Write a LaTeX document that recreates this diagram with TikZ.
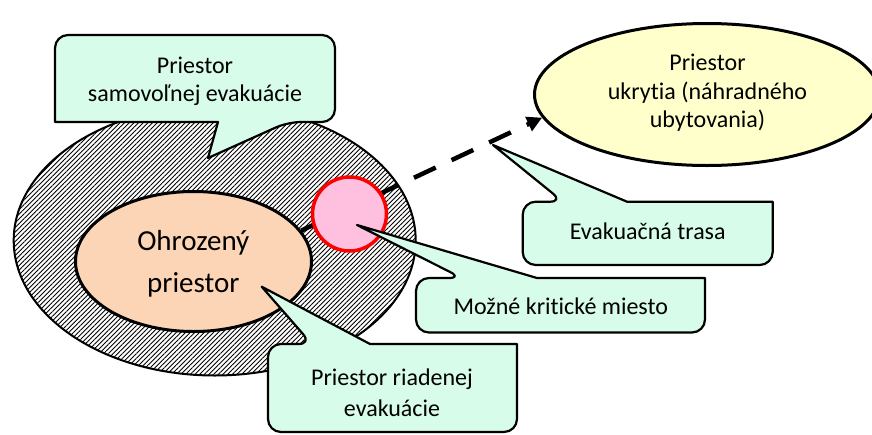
\documentclass[tikz,border=0pt]{standalone}
\usepackage{fontspec}
\setmainfont{Carlito}[Ligatures={NoCommon}]
\usetikzlibrary{arrows.meta,patterns.meta,shapes.geometric}
\definecolor{mint}{RGB}{216,252,234}
\definecolor{shelteryellow}{RGB}{255,255,204}
\definecolor{peach}{RGB}{251,213,181}
\definecolor{critpink}{RGB}{255,191,223}
\begin{document}
\begin{tikzpicture}[x=1pt,y=-1pt,
  callout/.style={draw=black,line width=2.2pt,fill=mint,line join=round},
  ctext/.style={font=\fontsize{24}{28.4}\selectfont,align=center,inner sep=0pt},
  bigtext/.style={font=\fontsize{29}{41.7}\selectfont,align=center,inner sep=0pt},
  route/.style={line width=4.5pt,dash pattern=on 24pt off 17.5pt,-{Triangle[length=15pt,width=15pt]}}]
\useasboundingbox (0,0) rectangle (872,434);
% spontaneous evacuation area (hatched)
\node[ellipse,draw,line width=2pt,inner sep=0pt,minimum width=402pt,minimum height=270pt,
  preaction={fill=white},pattern={Lines[angle=45,distance=3.3pt,line width=0.9pt]}] (outer) at (214.7,240.5) {};
% endangered area
\node[ellipse,draw,line width=3pt,fill=peach,inner sep=0pt,minimum width=236pt,minimum height=140pt] (danger) at (193.5,261.5) {};
\node[bigtext] (dangertext) at (193.3,264) {Ohrozený\\priestor};
% shelter
\node[ellipse,draw,line width=3pt,fill=shelteryellow,inner sep=0pt,minimum width=345pt,minimum height=142pt] (shelter) at (707,94.5) {};
\node[ctext] (sheltertext) at (707.5,93) {Priestor\\ukrytia (náhradného\\ubytovania)};
% evacuation route
\draw[route] (danger.16.5) -- (shelter.188.2);
% critical place
\node[circle,draw=red,line width=3.5pt,fill=critpink,inner sep=0pt,minimum size=74pt] (crit) at (349.5,214) {};
% callout 1
\draw[callout] (195,35) [rounded corners=13pt] -- (335,35) -- (335,122) -- (288,122) [sharp corners] -- (208,158) -- (218,122) -- (55,122) [rounded corners=13pt] -- (55,35) -- cycle;
\node[ctext] (t1) at (195,81.5) {Priestor\\samovoľnej evakuácie};
% callout 2
\draw[callout] (647,265) [rounded corners=13pt] -- (522.7,265) -- (522.7,201.7) -- (563,201.7) [sharp corners] -- (493,145) -- (627,201.7) -- (772.7,201.7) [rounded corners=13pt] -- (772.7,265) -- cycle;
\node[ctext] (t2) at (647.7,231) {Evakuačná trasa};
% callout 3
\draw[callout] (560,332.5) [rounded corners=13pt] -- (416,332.5) -- (416,278) -- (462,278) [sharp corners] -- (357,225) -- (537,278) -- (705,278) [rounded corners=13pt] -- (705,332.5) -- cycle;
\node[ctext] (t3) at (560.8,306.5) {Možné kritické miesto};
% callout 4
\draw[callout] (392,432) [rounded corners=13pt] -- (268,432) -- (268,344) -- (311.7,344) [sharp corners] -- (261.7,286.7) -- (370,344) -- (517,344) [rounded corners=13pt] -- (517,432) -- cycle;
\node[ctext] (t4) at (392,393) {Priestor riadenej\\[2.6pt]evakuácie};
\end{tikzpicture}
\end{document}
